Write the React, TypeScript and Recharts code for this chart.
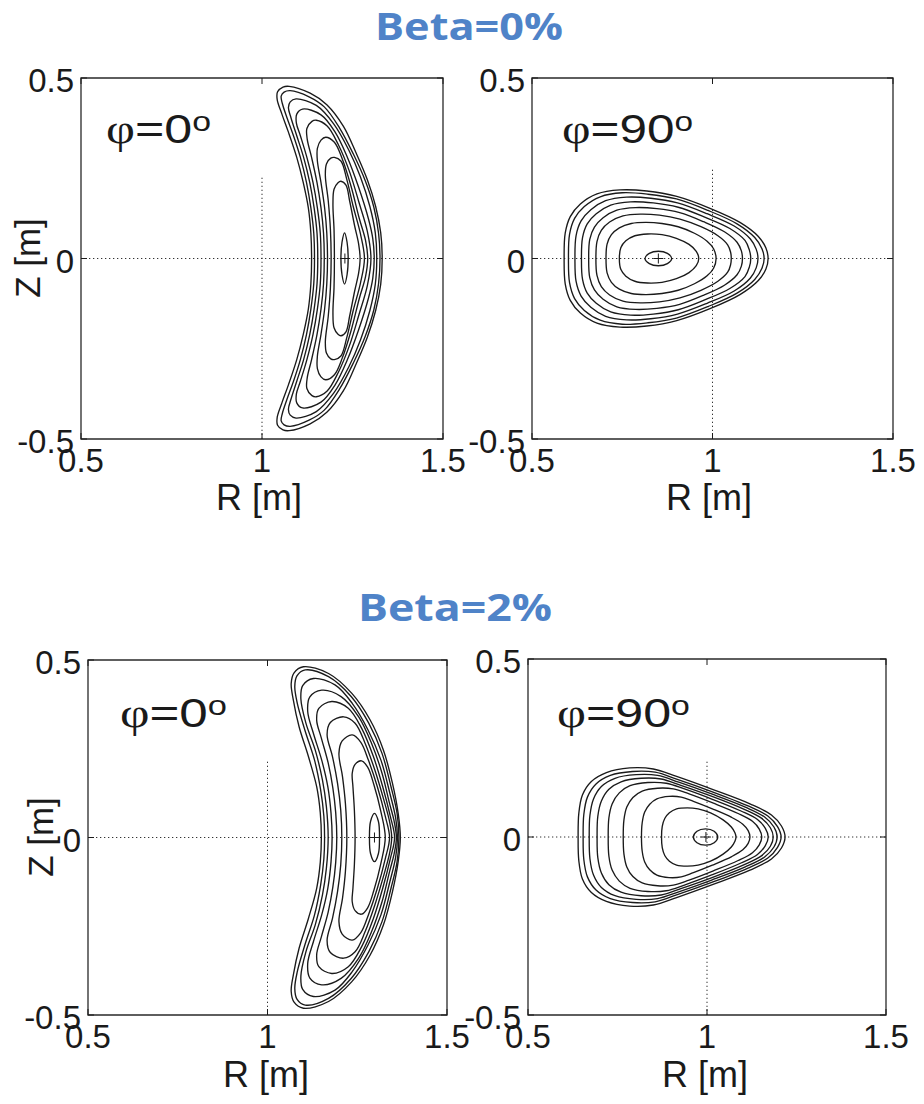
import React from 'react';
import { ComposedChart, Line, Scatter, XAxis, YAxis, ReferenceLine, ReferenceArea } from 'recharts';

type Pt = [number, number];

// ---- axes ----
const rTicks = [0.5, 1, 1.5];
const rTickLabels = ['0.5', '1', '1.5'];
const zTicks = [-0.5, 0, 0.5];
const zTickLabels = ['-0.5', '0', '0.5'];

// ---- flux-surface contours, upper halves (R [m], Z [m]); surfaces are up/down symmetric ----
// Beta = 0 %, phi = 0 deg
const beta0Phi0: Pt[][] = [
  [[1.137,0],[1.135,0.070],[1.128,0.140],[1.114,0.210],[1.096,0.280],[1.073,0.350],[1.055,0.400],[1.042,0.440],[1.043,0.462],[1.058,0.475],[1.075,0.477],[1.133,0.458],[1.179,0.426],[1.225,0.366],[1.260,0.292],[1.291,0.218],[1.314,0.144],[1.328,0.071],[1.332,0]],
  [[1.145,0],[1.143,0.070],[1.135,0.140],[1.123,0.210],[1.106,0.280],[1.087,0.340],[1.069,0.390],[1.056,0.430],[1.053,0.450],[1.061,0.461],[1.078,0.465],[1.130,0.448],[1.172,0.420],[1.214,0.362],[1.252,0.290],[1.285,0.216],[1.309,0.142],[1.322,0.070],[1.326,0]],
  [[1.154,0],[1.152,0.070],[1.144,0.140],[1.132,0.210],[1.115,0.280],[1.096,0.340],[1.080,0.390],[1.073,0.418],[1.078,0.434],[1.094,0.442],[1.150,0.424],[1.198,0.373],[1.240,0.300],[1.272,0.226],[1.298,0.144],[1.313,0.071],[1.317,0]],
  [[1.163,0],[1.161,0.070],[1.153,0.140],[1.141,0.210],[1.124,0.280],[1.106,0.340],[1.095,0.375],[1.096,0.400],[1.112,0.414],[1.163,0.398],[1.202,0.350],[1.236,0.280],[1.266,0.200],[1.294,0.110],[1.306,0.055],[1.310,0]],
  [[1.172,0],[1.170,0.070],[1.163,0.140],[1.152,0.210],[1.137,0.280],[1.125,0.330],[1.124,0.360],[1.138,0.380],[1.150,0.383],[1.180,0.367],[1.211,0.315],[1.242,0.240],[1.268,0.155],[1.291,0.075],[1.301,0]],
  [[1.181,0],[1.179,0.070],[1.173,0.140],[1.163,0.210],[1.153,0.270],[1.153,0.305],[1.163,0.328],[1.176,0.336],[1.200,0.322],[1.222,0.275],[1.246,0.200],[1.269,0.110],[1.286,0.050],[1.292,0]],
  [[1.191,0],[1.189,0.080],[1.183,0.160],[1.175,0.230],[1.178,0.262],[1.190,0.278],[1.200,0.280],[1.218,0.270],[1.234,0.220],[1.252,0.144],[1.272,0.068],[1.283,0]],
  [[1.200,0],[1.199,0.080],[1.196,0.150],[1.199,0.192],[1.210,0.210],[1.218,0.214],[1.232,0.203],[1.242,0.160],[1.256,0.090],[1.267,0.040],[1.271,0]],
  [[1.218,0],[1.221,0.045],[1.228,0.071],[1.235,0.045],[1.238,0]],
];
const beta0Phi0Axis: Pt[] = [[1.229, 0]];

// Beta = 0 %, phi = 90 deg
const beta0Phi90: Pt[][] = [
  [[0.589,0],[0.592,0.070],[0.606,0.116],[0.634,0.151],[0.680,0.179],[0.744,0.190],[0.818,0.187],[0.901,0.172],[0.993,0.139],[1.076,0.100],[1.127,0.061],[1.148,0.029],[1.154,0]],
  [[0.601,0],[0.604,0.067],[0.618,0.111],[0.645,0.144],[0.689,0.171],[0.750,0.182],[0.821,0.178],[0.900,0.165],[0.988,0.133],[1.068,0.096],[1.117,0.058],[1.137,0.027],[1.143,0]],
  [[0.619,0],[0.622,0.063],[0.636,0.104],[0.663,0.135],[0.704,0.160],[0.762,0.170],[0.829,0.167],[0.903,0.154],[0.985,0.124],[1.060,0.090],[1.105,0.054],[1.121,0.026],[1.126,0]],
  [[0.637,0],[0.640,0.058],[0.653,0.096],[0.678,0.124],[0.718,0.148],[0.773,0.157],[0.836,0.154],[0.905,0.142],[0.980,0.114],[1.048,0.083],[1.090,0.050],[1.102,0.024],[1.106,0]],
  [[0.657,0],[0.660,0.053],[0.673,0.087],[0.697,0.113],[0.735,0.134],[0.787,0.141],[0.846,0.138],[0.909,0.127],[0.975,0.102],[1.033,0.074],[1.068,0.045],[1.080,0.021],[1.083,0]],
  [[0.677,0],[0.680,0.047],[0.692,0.078],[0.715,0.101],[0.752,0.118],[0.800,0.123],[0.853,0.120],[0.910,0.109],[0.968,0.088],[1.015,0.063],[1.042,0.038],[1.050,0.018],[1.052,0]],
  [[0.705,0],[0.708,0.040],[0.720,0.066],[0.742,0.085],[0.775,0.097],[0.815,0.100],[0.860,0.097],[0.905,0.088],[0.950,0.070],[0.985,0.048],[1.003,0.027],[1.010,0]],
  [[0.742,0],[0.746,0.030],[0.760,0.049],[0.785,0.063],[0.820,0.068],[0.860,0.066],[0.900,0.056],[0.935,0.039],[0.955,0.020],[0.962,0]],
  [[0.813,0],[0.825,0.014],[0.850,0.020],[0.875,0.014],[0.887,0]],
];
const beta0Phi90Axis: Pt[] = [[0.85, 0]];

// Beta = 2 %, phi = 0 deg
const beta2Phi0: Pt[][] = [
  [[1.150,0],[1.147,0.070],[1.137,0.143],[1.114,0.228],[1.088,0.312],[1.072,0.387],[1.066,0.434],[1.074,0.464],[1.100,0.481],[1.170,0.462],[1.235,0.406],[1.286,0.331],[1.323,0.246],[1.348,0.153],[1.364,0.068],[1.370,0]],
  [[1.159,0],[1.157,0.060],[1.148,0.134],[1.131,0.218],[1.104,0.303],[1.083,0.378],[1.076,0.425],[1.082,0.455],[1.105,0.472],[1.170,0.453],[1.233,0.397],[1.282,0.322],[1.319,0.237],[1.344,0.143],[1.361,0.068],[1.366,0]],
  [[1.169,0],[1.164,0.087],[1.153,0.162],[1.133,0.246],[1.107,0.322],[1.093,0.390],[1.098,0.428],[1.128,0.448],[1.188,0.430],[1.236,0.378],[1.280,0.303],[1.316,0.218],[1.341,0.124],[1.357,0.055],[1.362,0]],
  [[1.180,0],[1.177,0.068],[1.168,0.143],[1.151,0.218],[1.128,0.293],[1.112,0.355],[1.118,0.396],[1.151,0.415],[1.205,0.397],[1.254,0.340],[1.290,0.265],[1.319,0.181],[1.340,0.096],[1.353,0.045],[1.359,0]],
  [[1.193,0],[1.190,0.070],[1.182,0.140],[1.169,0.210],[1.150,0.280],[1.137,0.330],[1.143,0.364],[1.179,0.383],[1.225,0.364],[1.262,0.308],[1.295,0.228],[1.321,0.143],[1.342,0.060],[1.354,0]],
  [[1.207,0],[1.204,0.077],[1.195,0.153],[1.181,0.228],[1.166,0.290],[1.175,0.324],[1.212,0.340],[1.244,0.322],[1.272,0.265],[1.299,0.190],[1.324,0.106],[1.340,0.045],[1.346,0]],
  [[1.221,0],[1.217,0.096],[1.209,0.171],[1.199,0.237],[1.208,0.272],[1.236,0.289],[1.260,0.268],[1.281,0.218],[1.306,0.143],[1.328,0.060],[1.340,0]],
  [[1.244,0],[1.242,0.077],[1.238,0.143],[1.236,0.181],[1.244,0.206],[1.262,0.216],[1.279,0.198],[1.296,0.150],[1.316,0.072],[1.328,0]],
  [[1.284,0],[1.287,0.045],[1.298,0.068],[1.309,0.045],[1.312,0]],
];
const beta2Phi0Axis: Pt[] = [[1.298, 0]];

// Beta = 2 %, phi = 90 deg
const beta2Phi90: Pt[][] = [
  [[0.640,0],[0.642,0.067],[0.652,0.118],[0.677,0.156],[0.719,0.181],[0.784,0.194],[0.850,0.191],[0.915,0.170],[1.017,0.133],[1.120,0.093],[1.180,0.062],[1.208,0.031],[1.218,0]],
  [[0.654,0],[0.656,0.064],[0.666,0.112],[0.690,0.149],[0.730,0.173],[0.792,0.184],[0.855,0.182],[0.917,0.162],[1.015,0.127],[1.113,0.088],[1.170,0.059],[1.197,0.029],[1.207,0]],
  [[0.671,0],[0.673,0.061],[0.683,0.107],[0.705,0.142],[0.743,0.165],[0.802,0.175],[0.862,0.173],[0.921,0.154],[1.013,0.121],[1.107,0.084],[1.161,0.056],[1.187,0.028],[1.196,0]],
  [[0.693,0],[0.695,0.058],[0.705,0.101],[0.726,0.134],[0.760,0.155],[0.816,0.165],[0.872,0.163],[0.927,0.145],[1.014,0.114],[1.101,0.079],[1.152,0.053],[1.177,0.026],[1.185,0]],
  [[0.724,0],[0.726,0.054],[0.735,0.093],[0.755,0.124],[0.785,0.144],[0.835,0.153],[0.886,0.151],[0.937,0.135],[1.015,0.106],[1.095,0.073],[1.141,0.049],[1.163,0.024],[1.171,0]],
  [[0.766,0],[0.768,0.048],[0.776,0.084],[0.793,0.111],[0.819,0.129],[0.862,0.137],[0.906,0.135],[0.950,0.121],[1.018,0.095],[1.087,0.066],[1.127,0.044],[1.146,0.022],[1.153,0]],
  [[0.817,0],[0.819,0.040],[0.826,0.070],[0.840,0.092],[0.860,0.107],[0.894,0.114],[0.928,0.112],[0.962,0.100],[1.015,0.079],[1.069,0.055],[1.100,0.036],[1.115,0.018],[1.120,0]],
  [[0.873,0],[0.875,0.030],[0.882,0.052],[0.895,0.068],[0.915,0.079],[0.945,0.082],[0.975,0.079],[1.010,0.068],[1.045,0.048],[1.068,0.028],[1.078,0.012],[1.081,0]],
  [[0.962,0],[0.972,0.016],[0.996,0.023],[1.020,0.016],[1.030,0]],
];
const beta2Phi90Axis: Pt[] = [[0.997, 0]];

// top end of the dotted R = 1 guide line in each panel
const guideTops = [0.231, 0.25, 0.218, 0.217];

// ---- layout (page pixels) ----
const PAD_L = 90, PAD_T = 25, PAD_R = 30, PAD_B = 85;
const panels = [
  { left: 81, top: 78, w: 362, h: 361, contours: beta0Phi0, axis: beta0Phi0Axis, guide: guideTops[0] },
  { left: 532, top: 78, w: 361, h: 361, contours: beta0Phi90, axis: beta0Phi90Axis, guide: guideTops[1] },
  { left: 88, top: 660, w: 359, h: 355, contours: beta2Phi0, axis: beta2Phi0Axis, guide: guideTops[2] },
  { left: 528, top: 659, w: 358, h: 356, contours: beta2Phi90, axis: beta2Phi90Axis, guide: guideTops[3] },
];

const INK = '#1a1a1a';
const SANS = '"Liberation Sans", Arial, Helvetica, sans-serif';

// full closed surface from an upper half
const toClosed = (upper: Pt[]) =>
  [...upper, ...upper.slice(1, -1).reverse().map(([r, z]) => [r, -z] as Pt)].map(([r, z]) => ({ r, z }));

// closed centripetal Catmull-Rom curve factory (d3-shape curve protocol)
const closedSmooth = (context: any) => {
  let pts: number[][] = [];
  return {
    areaStart() {},
    areaEnd() {},
    lineStart() { pts = []; },
    point(x: number, y: number) { pts.push([+x, +y]); },
    lineEnd() {
      const n = pts.length;
      if (n === 0) return;
      context.moveTo(pts[0][0], pts[0][1]);
      if (n < 3) {
        for (let i = 1; i < n; i++) context.lineTo(pts[i][0], pts[i][1]);
        return;
      }
      for (let i = 0; i < n; i++) {
        const p0 = pts[(i - 1 + n) % n], p1 = pts[i], p2 = pts[(i + 1) % n], p3 = pts[(i + 2) % n];
        const d01 = Math.hypot(p1[0] - p0[0], p1[1] - p0[1]);
        const d12 = Math.hypot(p2[0] - p1[0], p2[1] - p1[1]);
        const d23 = Math.hypot(p3[0] - p2[0], p3[1] - p2[1]);
        const l01 = Math.sqrt(d01), l12 = Math.sqrt(d12), l23 = Math.sqrt(d23);
        let c1x = p1[0], c1y = p1[1], c2x = p2[0], c2y = p2[1];
        if (l01 > 1e-9) {
          const a = 2 * d01 + 3 * l01 * l12 + d12, nn = 3 * l01 * (l01 + l12);
          c1x = (p1[0] * a - p0[0] * d12 + p2[0] * d01) / nn;
          c1y = (p1[1] * a - p0[1] * d12 + p2[1] * d01) / nn;
        }
        if (l23 > 1e-9) {
          const b = 2 * d23 + 3 * l23 * l12 + d12, m = 3 * l23 * (l23 + l12);
          c2x = (p2[0] * b + p1[0] * d23 - p3[0] * d12) / m;
          c2y = (p2[1] * b + p1[1] * d23 - p3[1] * d12) / m;
        }
        context.bezierCurveTo(c1x, c1y, c2x, c2y, p2[0], p2[1]);
      }
      context.closePath();
    },
  };
};

const XTick = (props: any) => {
  const { x, y, payload, h } = props;
  const label = rTickLabels[rTicks.indexOf(payload.value)];
  return (
    <g>
      <line x1={x} x2={x} y1={y} y2={y - 6} stroke={INK} strokeWidth={1} />
      <line x1={x} x2={x} y1={y - h} y2={y - h + 6} stroke={INK} strokeWidth={1} />
      <text x={x} y={y + 33} textAnchor="middle" fontSize={33} fontFamily={SANS} fill={INK}>{label}</text>
    </g>
  );
};

const YTick = (props: any) => {
  const { x, y, payload, w } = props;
  const label = zTickLabels[zTicks.indexOf(payload.value)];
  return (
    <g>
      <line x1={x} x2={x + 6} y1={y} y2={y} stroke={INK} strokeWidth={1} />
      <line x1={x + w} x2={x + w - 6} y1={y} y2={y} stroke={INK} strokeWidth={1} />
      <text x={x - 7} y={y + 14} textAnchor="end" fontSize={33} fontFamily={SANS} fill={INK}>{label}</text>
    </g>
  );
};

const Plus = (props: any) => {
  const { cx, cy } = props;
  return (
    <g>
      <line x1={cx - 5} x2={cx + 5} y1={cy} y2={cy} stroke={INK} strokeWidth={1} />
      <line x1={cx} x2={cx} y1={cy - 5} y2={cy + 5} stroke={INK} strokeWidth={1} />
    </g>
  );
};

function Panel({ p }: { p: (typeof panels)[number] }) {
  return (
    <div style={{ position: 'absolute', left: p.left - PAD_L, top: p.top - PAD_T }}>
      <ComposedChart
        width={p.w + PAD_L + PAD_R}
        height={p.h + PAD_T + PAD_B}
        margin={{ top: PAD_T, right: PAD_R, bottom: 0, left: 0 }}
      >
        <XAxis
          dataKey="r" type="number" domain={[0.5, 1.5]} ticks={rTicks} interval={0}
          allowDataOverflow height={PAD_B} tickSize={0} tickMargin={0} tickLine={false} axisLine={false}
          tick={<XTick h={p.h} />}
        />
        <YAxis
          type="number" domain={[-0.5, 0.5]} ticks={zTicks} interval={0}
          allowDataOverflow width={PAD_L} tickSize={0} tickMargin={0} tickLine={false} axisLine={false}
          tick={<YTick w={p.w} />}
        />
        <ReferenceLine y={0} stroke="#333" strokeWidth={1} strokeDasharray="1.3 2.7" />
        <ReferenceLine segment={[{ x: 1, y: -0.5 }, { x: 1, y: p.guide }]} stroke="#333" strokeWidth={1} strokeDasharray="1.3 2.7" />
        {p.contours.map((c, i) => (
          <Line
            key={i}
            data={toClosed(c)}
            dataKey="z"
            type={closedSmooth as any}
            stroke={INK}
            strokeWidth={1.35}
            dot={false}
            activeDot={false}
            isAnimationActive={false}
            legendType="none"
          />
        ))}
        <Scatter
          data={p.axis.map(([r, z]) => ({ r, z }))}
          dataKey="z"
          shape={<Plus />}
          isAnimationActive={false}
        />
        <ReferenceArea x1={0.5} x2={1.5} y1={-0.5} y2={0.5} fill="none" stroke="#2a2a2a" strokeWidth={1.3} />
      </ComposedChart>
    </div>
  );
}

const Phi = ({ x, y, deg, width }: { x: number; y: number; deg: string; width: number }) => (
  <text x={x} y={y} fontSize={40} fontFamily={SANS} fill={INK} textLength={width} lengthAdjust="spacingAndGlyphs">
    <tspan fontFamily='"Liberation Serif", "Times New Roman", serif'>φ</tspan>
    <tspan>={deg}</tspan>
    <tspan fontSize={27} dy={-12}>o</tspan>
  </text>
);

export default function App() {
  const titleStyle = { fontFamily: '"Open Sans", Lato, sans-serif', fontWeight: 700 } as const;
  return (
    <div style={{ position: 'absolute', left: 0, top: 0, width: 924, height: 1104, background: '#fff' }}>
      {panels.map((p, i) => (
        <Panel key={i} p={p} />
      ))}
      <svg width={924} height={1104} style={{ position: 'absolute', left: 0, top: 0, pointerEvents: 'none' }}>
        <text x={469} y={40} textAnchor="middle" fontSize={37} fill="#4f83c8" textLength={188} lengthAdjust="spacingAndGlyphs" style={titleStyle}>Beta=0%</text>
        <text x={455} y={621} textAnchor="middle" fontSize={37} fill="#4f83c8" textLength={194} lengthAdjust="spacingAndGlyphs" style={titleStyle}>Beta=2%</text>

        <text x={40} y={258} textAnchor="middle" fontSize={35} fontFamily={SANS} fill={INK} transform="rotate(-90 40 258)">Z [m]</text>
        <text x={53} y={837} textAnchor="middle" fontSize={35} fontFamily={SANS} fill={INK} transform="rotate(-90 53 837)">Z [m]</text>

        <text x={259} y={510} textAnchor="middle" fontSize={36} fontFamily={SANS} fill={INK}>R [m]</text>
        <text x={709} y={510} textAnchor="middle" fontSize={36} fontFamily={SANS} fill={INK}>R [m]</text>
        <text x={266} y={1087} textAnchor="middle" fontSize={36} fontFamily={SANS} fill={INK}>R [m]</text>
        <text x={705} y={1087} textAnchor="middle" fontSize={36} fontFamily={SANS} fill={INK}>R [m]</text>

        <Phi x={106} y={143} deg="0" width={105} />
        <Phi x={562} y={143} deg="90" width={131} />
        <Phi x={120} y={727} deg="0" width={107} />
        <Phi x={557} y={727} deg="90" width={133} />
      </svg>
    </div>
  );
}
